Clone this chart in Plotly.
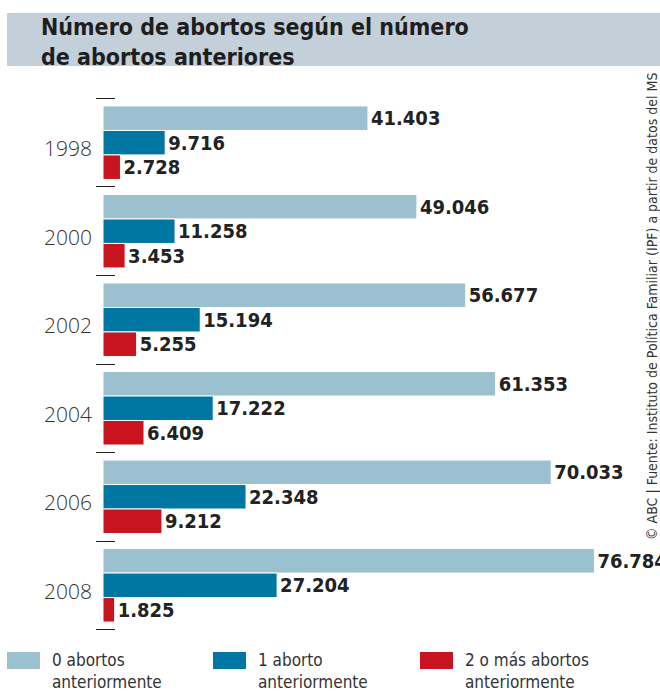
import plotly.graph_objects as go

years = ["1998", "2000", "2002", "2004", "2006", "2008"]
cero = [41403, 49046, 56677, 61353, 70033, 76784]
uno = [9716, 11258, 15194, 17222, 22348, 27204]
dos_mas = [2728, 3453, 5255, 6409, 9212, 1825]
series_names = ["0 abortos<br>anteriormente", "1 aborto<br>anteriormente", "2 o más abortos<br>anteriormente"]
colors = ["#9bc0cf", "#0077a3", "#c8141e"]

title = "Número de abortos según el número<br>de abortos anteriores"
source = "© ABC | Fuente: Instituto de Política Familiar (IPF) a partir de datos del MS"

BOLD_FONT = "DejaVu Sans Condensed, DejaVu Sans, sans-serif"
COND_FONT = "DejaVu Sans Condensed, DejaVu Sans, sans-serif"
LIGHT_FONT = "Open Sans, sans-serif"

fig = go.Figure()
for vals, name, col in zip([cero, uno, dos_mas], series_names, colors):
    fig.add_trace(go.Bar(
        y=years, x=vals, orientation="h", name=name,
        marker=dict(color=col, line=dict(color="white", width=1)),
        texttemplate="%{x:,}", textposition="outside", cliponaxis=False,
        textfont=dict(family=BOLD_FONT, size=20, color="#222222", weight="bold"),
        showlegend=False, hoverinfo="skip",
    ))

W, H = 660, 700
ml, mr, mt, mb = 96, 40, 94, 66
PW, PH = W - ml - mr, H - mt - mb

# group boundaries in category units for the separator ticks
n = len(years)
boundaries = [i - 0.5 for i in range(n + 1)]
yrange = [n - 0.5 + 0.05, -0.55]

# invisible helper trace so the separator-tick axis is drawn
fig.add_trace(go.Scatter(x=[0] * len(boundaries), y=boundaries, yaxis="y2",
                         mode="markers", marker=dict(size=1, opacity=0),
                         showlegend=False, hoverinfo="skip"))


def px(x):
    return (x - ml) / PW


def py(y):
    return (H - mb - y) / PH


fig.update_layout(
    width=W, height=H,
    margin=dict(l=ml, r=mr, t=mt, b=mb),
    paper_bgcolor="white", plot_bgcolor="white",
    barmode="group", bargap=0.17, bargroupgap=0.0,
    separators=",.",
    showlegend=False,
    xaxis=dict(range=[-1094, 80781], showgrid=False, zeroline=False,
               showticklabels=False, ticks="", showline=False, fixedrange=True),
    yaxis=dict(type="category", range=yrange,
               ticks="", showgrid=False, showline=False, zeroline=False,
               ticklabelstandoff=3, ticklabelshift=-6,
               tickfont=dict(family=LIGHT_FONT, size=21, color="#333333", weight=300),
               fixedrange=True),
    yaxis2=dict(type="linear", overlaying="y", anchor="x", side="left",
                range=yrange, tickmode="array", tickvals=boundaries,
                showticklabels=False, ticks="inside", ticklen=19, tickwidth=1,
                tickcolor="#222", showgrid=False, showline=False, zeroline=False,
                fixedrange=True),
)

# Title band
fig.add_shape(type="rect", xref="paper", yref="paper",
              x0=px(7), x1=px(661), y0=py(66), y1=py(13),
              fillcolor="#c3d0da", line=dict(width=0), layer="below")
fig.add_annotation(text=title, xref="paper", yref="paper",
                   x=px(39), y=py(12),
                   xanchor="left", yanchor="top", showarrow=False, align="left",
                   font=dict(family=BOLD_FONT, size=23, color="#1e1e1e", weight="bold"))

# Source (vertical)
fig.add_annotation(text=source, xref="paper", yref="paper",
                   x=px(652), y=py(307),
                   xanchor="center", yanchor="middle", textangle=-90, showarrow=False,
                   font=dict(family=COND_FONT, size=14, color="#333333"))

# Legend (manual)
leg_x = [7, 213, 420]
for lx, name, col in zip(leg_x, series_names, colors):
    fig.add_shape(type="rect", xref="paper", yref="paper",
                  x0=px(lx), x1=px(lx + 33), y0=py(669), y1=py(652),
                  fillcolor=col, line=dict(width=0))
    fig.add_annotation(text=name, xref="paper", yref="paper",
                       x=px(lx + 43), y=py(648),
                       xanchor="left", yanchor="top", showarrow=False, align="left",
                       font=dict(family=COND_FONT, size=17, color="#333333"))

fig.write_html("out.html")
